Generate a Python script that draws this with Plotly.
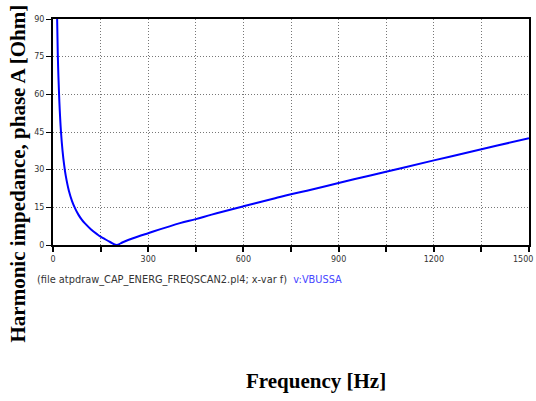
import plotly.graph_objects as go

# Frequency scan
freq_hz = [13, 15, 17, 20, 25, 30, 35, 40, 50, 60, 70, 80, 90, 100, 120, 140,
           150, 160, 180, 200, 220, 250, 300, 400, 450, 500, 600, 700, 750, 800,
           900, 1000, 1100, 1200, 1300, 1400, 1500]
impedance_ohm = [90.0, 76.5, 67.4, 57.1, 45.4, 37.6, 32.0, 27.7, 21.6, 17.5, 14.5,
                 12.1, 10.2, 8.7, 6.2, 4.2, 3.3, 2.6, 1.2, 0.0, 1.1, 2.6, 4.7, 8.7,
                 10.3, 12.1, 15.4, 18.6, 20.2, 21.6, 24.7, 27.7, 30.7, 33.7, 36.6,
                 39.6, 42.5]

x_tick_vals = [0, 150, 300, 450, 600, 750, 900, 1050, 1200, 1350, 1500]
x_tick_text = ["0", "", "300", "", "600", "", "900", "", "1200", "", ""]
x_last_label = "1500"
y_tick_vals = [0, 15, 30, 45, 60, 75, 90]
y_tick_text = ["0", "15", "30", "45", "60", "75", "90"]

fig = go.Figure()
fig.add_trace(go.Scatter(x=freq_hz, y=impedance_ohm, mode="lines",
                         line=dict(color="#0000ff", width=2), line_shape="spline",
                         showlegend=False))

tickfont = dict(family="DejaVu Sans", size=8, color="#333333")
grid = dict(showgrid=True, gridcolor="#777777", griddash="1px,2px", gridwidth=1)
fig.update_layout(
    width=536, height=401,
    margin=dict(l=53, r=7, t=19, b=156, autoexpand=False),
    paper_bgcolor="white", plot_bgcolor="white",
    xaxis=dict(range=[0, 1500], tickvals=x_tick_vals, ticktext=x_tick_text,
               ticks="outside", ticklen=5, tickwidth=2, tickcolor="black",
               showline=True, linewidth=2, linecolor="black", mirror=True,
               zeroline=False, tickfont=tickfont, ticklabeloverflow="allow",
               automargin=False, **grid),
    yaxis=dict(range=[0, 90], tickvals=y_tick_vals, ticktext=y_tick_text,
               ticks="outside", ticklen=5, tickwidth=1, tickcolor="black",
               showline=True, linewidth=2, linecolor="black", mirror=True,
               zeroline=False, tickfont=tickfont, ticklabeloverflow="allow",
               automargin=False, **grid),
    annotations=[
        dict(text=x_last_label, xref="paper", yref="paper",
             x=(535 - 53) / 476, y=(245 - 259) / 226,
             xanchor="right", yanchor="middle", showarrow=False, font=tickfont),
        dict(text="(file atpdraw_CAP_ENERG_FREQSCAN2.pl4; x-var f)&nbsp;&nbsp;"
                  "<span style='color:#4646ff'>v:VBUSSA</span>",
             xref="paper", yref="paper", x=(35 - 53) / 476, y=(245 - 280) / 226,
             xanchor="left", yanchor="middle", showarrow=False,
             font=dict(family="DejaVu Sans", size=9.8, color="#333333")),
        dict(text="<b>Harmonic impedance, phase A [Ohm]</b>",
             xref="paper", yref="paper", x=(17.5 - 53) / 476, y=(245 - 174) / 226,
             xanchor="center", yanchor="middle", textangle=-90, showarrow=False,
             font=dict(family="Liberation Serif", size=21, color="black")),
        dict(text="<b>Frequency [Hz]</b>",
             xref="paper", yref="paper", x=(316 - 53) / 476, y=(245 - 381) / 226,
             xanchor="center", yanchor="middle", showarrow=False,
             font=dict(family="Liberation Serif", size=21, color="black")),
    ],
)

fig.write_html("out.html")
